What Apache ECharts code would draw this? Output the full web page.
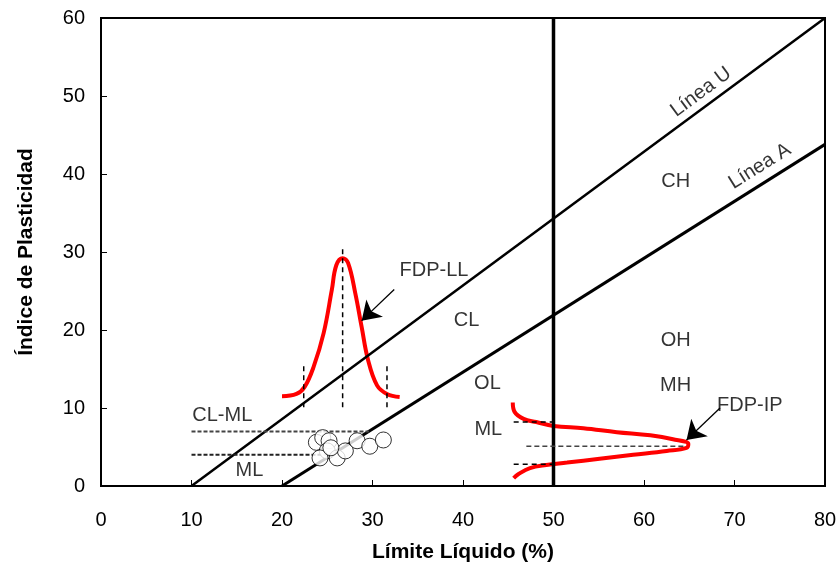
<!DOCTYPE html>
<html>
<head>
<meta charset="utf-8">
<script src="https://cdn.jsdelivr.net/npm/echarts@6/dist/echarts.min.js"></script>
<style>
  html, body { margin: 0; padding: 0; background: #fff; }
  #chart { width: 837px; height: 565px; }
</style>
</head>
<body>
<div id="chart"></div>
<script>
// ejes
const xTicks = [0, 10, 20, 30, 40, 50, 60, 70, 80]
const yTicks = [0, 10, 20, 30, 40, 50, 60]

// lineas de la carta de plasticidad
const lineaU = [[10, 0], [80, 60]]
const lineaA = [[20, 0], [80, 43.8]]
const lineaLL50 = [[50, 0], [50, 60]]
const lineaCLML7 = [[10, 7], [29.6, 7]]
const lineaCLML4 = [[10, 4], [25.5, 4]]

// ensayos (LL, IP)
const ensayos = [
  [23.8, 5.6], [24.5, 6.2], [25.2, 5.8], [25.0, 4.5], [24.2, 3.6], [26.1, 3.6],
  [27.0, 4.5], [28.3, 5.8], [29.7, 5.1], [31.2, 5.9], [25.4, 4.9]
]

// FDP del limite liquido
const fdpLL = [
  [20.0, 11.5], [21.6, 11.8], [22.5, 12.7], [23.5, 15.3], [24.6, 19.6], [25.5, 25.1],
  [26.0, 28.3], [26.7, 29.2], [27.3, 28.6], [28.1, 24.7], [28.8, 20.4], [29.5, 16.2],
  [30.5, 12.9], [31.6, 11.8], [33.0, 11.4]
]
const fdpLLMedia = [[26.7, 10.1], [26.7, 30.8]]
const fdpLLInf = [[22.4, 10.1], [22.4, 15.8]]
const fdpLLSup = [[31.6, 10.1], [31.6, 15.8]]

// FDP del indice de plasticidad
const fdpIP = [
  [45.5, 10.7], [45.7, 9.5], [46.7, 8.6], [48.1, 8.2], [50.0, 7.7], [53.3, 7.4],
  [57.0, 6.9], [60.7, 6.5], [63.2, 6.0], [64.9, 5.4], [64.7, 4.9], [62.5, 4.5],
  [58.8, 4.0], [55.1, 3.5], [51.5, 3.0], [49.2, 2.7], [47.4, 2.3], [46.1, 1.5], [45.6, 1.0]
]
const fdpIPSup = [[45.6, 8.2], [50, 8.2]]
const fdpIPMedia = [[47.0, 5.1], [64.5, 5.1]]
const fdpIPInf = [[45.6, 2.8], [50, 2.8]]

// flechas
const flechaLL = [[32.4, 25.2], [28.8, 21.2]]
const flechaIP = [[68.4, 10.0], [64.7, 5.9]]

// rotulos
const rotulos = [
  { name: 'CL', value: [40.4, 21.2] },
  { name: 'CH', value: [63.5, 39.0] },
  { name: 'OH', value: [63.5, 18.6] },
  { name: 'MH', value: [63.5, 12.9] },
  { name: 'OL', value: [42.7, 13.1] },
  { name: 'ML', value: [42.8, 7.2] },
  { name: 'CL-ML', value: [13.4, 9.1] },
  { name: 'ML', value: [16.4, 2.0] },
  { name: 'FDP-LL', value: [36.8, 27.6] },
  { name: 'FDP-IP', value: [71.7, 10.3] }
]
const rotulosLineas = [
  { name: 'Línea U', value: [66.3, 50.5], rotate: 36.5 },
  { name: 'Línea A', value: [72.8, 41.0], rotate: 32 }
]

const chart = echarts.init(document.getElementById('chart'))

function recta(data, width, type, color) {
  return {
    type: 'line',
    data: data,
    symbol: 'none',
    silent: true,
    lineStyle: { color: color || '#000', width: width, type: type || 'solid' },
    z: 3
  }
}

function flecha(data) {
  return {
    type: 'lines',
    coordinateSystem: 'cartesian2d',
    symbol: ['none', 'arrow'],
    symbolSize: 18,
    lineStyle: { color: '#000', width: 1.3, opacity: 1 },
    data: [{ coords: data }],
    z: 6
  }
}

const fontBase = 'Liberation Sans, Arial, sans-serif'
const rotuloLabel = {
  show: true,
  position: 'inside',
  formatter: '{b}',
  fontFamily: fontBase,
  fontSize: 20,
  color: '#000'
}

const option = {
  animation: false,
  backgroundColor: '#fff',
  grid: {
    left: 101,
    right: 12,
    top: 18,
    bottom: 79,
    outerBoundsMode: 'none',
    containLabel: false,
    show: true,
    borderColor: '#000',
    borderWidth: 2
  },
  xAxis: {
    type: 'value',
    min: xTicks[0],
    max: xTicks[xTicks.length - 1],
    interval: 10,
    name: 'Límite Líquido (%)',
    nameLocation: 'middle',
    nameGap: 56,
    nameTextStyle: { fontFamily: fontBase, fontSize: 21, fontWeight: 'bold', color: '#000' },
    axisLine: { lineStyle: { color: '#000', width: 2 } },
    axisTick: { inside: true, length: 6, lineStyle: { color: '#000', width: 1 } },
    axisLabel: { margin: 24, fontFamily: fontBase, fontSize: 20, color: '#000' },
    splitLine: { show: false }
  },
  yAxis: {
    type: 'value',
    min: yTicks[0],
    max: yTicks[yTicks.length - 1],
    interval: 10,
    name: 'Índice de Plasticidad',
    nameLocation: 'middle',
    nameGap: 64,
    nameTextStyle: { fontFamily: fontBase, fontSize: 21, fontWeight: 'bold', color: '#000' },
    axisLine: { lineStyle: { color: '#000', width: 2 } },
    axisTick: { inside: true, length: 6, lineStyle: { color: '#000', width: 1 } },
    axisLabel: { margin: 16, fontFamily: fontBase, fontSize: 20, color: '#000' },
    splitLine: { show: false }
  },
  series: [
    recta(lineaU, 2.5),
    recta(lineaA, 3),
    recta(lineaLL50, 3.5),
    recta(lineaCLML7, 2, [4, 2], '#444'),
    recta(lineaCLML4, 2, [4, 2], '#222'),
    {
      type: 'scatter',
      data: ensayos,
      symbol: 'circle',
      symbolSize: 16,
      itemStyle: { color: '#fff', borderColor: '#000', borderWidth: 1 },
      z: 4
    },
    {
      type: 'line',
      data: fdpLL,
      smooth: 0.4,
      symbol: 'none',
      lineStyle: { color: '#ff0000', width: 4 },
      z: 2
    },
    recta(fdpLLMedia, 1.5, [5, 4]),
    recta(fdpLLInf, 1.5, [5, 4]),
    recta(fdpLLSup, 1.5, [5, 4]),
    {
      type: 'line',
      data: fdpIP,
      smooth: 0.4,
      symbol: 'none',
      lineStyle: { color: '#ff0000', width: 4 },
      z: 2
    },
    recta(fdpIPSup, 1.5, [5, 4]),
    recta(fdpIPMedia, 1.5, [5, 3], '#444'),
    recta(fdpIPInf, 1.5, [5, 4]),
    flecha(flechaLL),
    flecha(flechaIP),
    {
      type: 'scatter',
      data: rotulos,
      symbolSize: 0,
      silent: true,
      label: rotuloLabel,
      z: 7
    },
    {
      type: 'scatter',
      symbolSize: 0,
      silent: true,
      data: rotulosLineas.map(r => ({
        name: r.name,
        value: r.value,
        label: { rotate: r.rotate }
      })),
      label: rotuloLabel,
      z: 7
    }
  ]
}

chart.setOption(option)
</script>
</body>
</html>
